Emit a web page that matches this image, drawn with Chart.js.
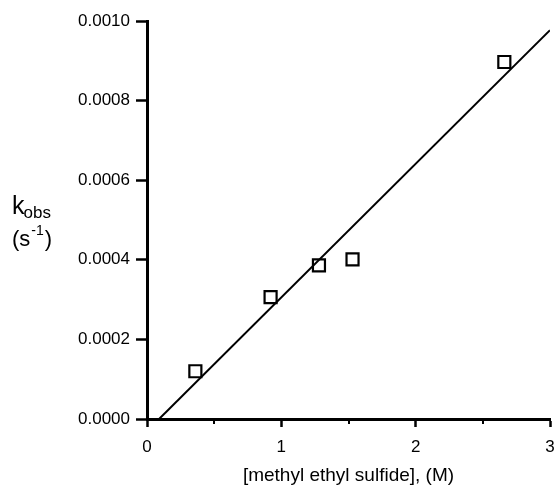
<!DOCTYPE html>
<html>
<head>
<meta charset="utf-8">
<script src="https://cdn.jsdelivr.net/npm/chart.js@4"></script>
<style>
  html, body { margin: 0; padding: 0; background: #fff; }
  #wrap { width: 556px; height: 492px; }
</style>
</head>
<body>
<div id="wrap"><canvas id="rateChart" width="556" height="492"></canvas></div>
<script>
// measured points: [methyl ethyl sulfide] (M) vs k_obs (s^-1)
const concM = [0.36, 0.92, 1.28, 1.53, 2.66];
const kObs = [0.00012, 0.000306, 0.000386, 0.000401, 0.000897];

// least squares line as drawn in the figure (end points)
const fitX = [0.09, 3.0];
const fitY = [0.0, 0.000977];

const xTicks = [0, 1, 2, 3];
const xMinorTicks = [0.5, 1.5, 2.5];
const yTicks = [0, 0.0002, 0.0004, 0.0006, 0.0008, 0.0010];

const fontFamily = "'Liberation Sans', Arial, Helvetica, sans-serif";

// short minor ticks on the x axis, and the two-line y axis label
const extras = {
    id: "extras",
    afterDraw(chart) {
        const ctx = chart.ctx;
        const xs = chart.scales.x;
        const bottom = chart.chartArea.bottom;

        ctx.save();
        ctx.strokeStyle = "#000";
        ctx.lineWidth = 2;
        xMinorTicks.forEach(v => {
            const px = Math.round(xs.getPixelForValue(v));
            ctx.beginPath();
            ctx.moveTo(px, bottom);
            ctx.lineTo(px, bottom + 5);
            ctx.stroke();
        });

        ctx.fillStyle = "#000";
        ctx.textBaseline = "alphabetic";
        ctx.textAlign = "left";

        ctx.font = "25px " + fontFamily;
        ctx.fillText("k", 12, 214);
        let w = ctx.measureText("k").width;
        ctx.font = "17px " + fontFamily;
        ctx.fillText("obs", 12 + w - 1, 218);

        ctx.font = "22px " + fontFamily;
        ctx.fillText("(s", 12, 246);
        w = ctx.measureText("(s").width;
        ctx.font = "14px " + fontFamily;
        ctx.fillText("-1", 12 + w + 1, 235);
        const w2 = ctx.measureText("-1").width;
        ctx.font = "22px " + fontFamily;
        ctx.fillText(")", 12 + w + w2 + 2, 246);
        ctx.restore();
    }
};

const ctx = document.getElementById("rateChart").getContext("2d");

new Chart(ctx, {
    type: "scatter",
    data: {
        datasets: [
            {
                label: "points",
                data: concM.map((x, i) => ({ x: x, y: kObs[i] })),
                pointStyle: "rect",
                pointRadius: 8.5,
                pointBorderWidth: 2.2,
                borderColor: "#000",
                backgroundColor: "rgba(255,255,255,0)",
                order: 1
            },
            {
                label: "fit",
                type: "line",
                data: fitX.map((x, i) => ({ x: x, y: fitY[i] })),
                borderColor: "#000",
                borderWidth: 2,
                pointRadius: 0,
                fill: false,
                order: 2
            }
        ]
    },
    options: {
        responsive: false,
        animation: false,
        layout: {
            autoPadding: false,
            padding: { left: 0, right: 6, top: 21, bottom: 0 }
        },
        plugins: {
            legend: { display: false },
            tooltip: { enabled: false }
        },
        scales: {
            x: {
                type: "linear",
                min: 0,
                max: 3,
                afterFit: scale => {
                    scale.height = 73;
                    scale.paddingLeft = 0;
                    scale.paddingRight = 0;
                },
                afterBuildTicks: scale => {
                    scale.ticks = xTicks.map(v => ({ value: v }));
                },
                border: { color: "#000", width: 3 },
                grid: {
                    drawOnChartArea: false,
                    tickLength: 8,
                    tickWidth: 2.5,
                    tickColor: "#000"
                },
                ticks: {
                    color: "#000",
                    padding: 10,
                    maxRotation: 0,
                    font: { family: fontFamily, size: 17 },
                    callback: v => String(v)
                },
                title: {
                    display: true,
                    text: "[methyl ethyl sulfide], (M)",
                    color: "#000",
                    font: { family: fontFamily, size: 19 },
                    padding: { top: 0, bottom: 5 }
                }
            },
            y: {
                type: "linear",
                min: 0,
                max: 0.001,
                afterFit: scale => {
                    scale.width = 147;
                    scale.paddingTop = 0;
                    scale.paddingBottom = 0;
                },
                afterBuildTicks: scale => {
                    scale.ticks = yTicks.map(v => ({ value: v }));
                },
                border: { color: "#000", width: 3 },
                grid: {
                    drawOnChartArea: false,
                    tickLength: 11,
                    tickWidth: 2.5,
                    tickColor: "#000"
                },
                ticks: {
                    color: "#000",
                    padding: 6,
                    font: { family: fontFamily, size: 17 },
                    callback: v => Number(v).toFixed(4)
                }
            }
        }
    },
    plugins: [extras]
});
</script>
</body>
</html>
